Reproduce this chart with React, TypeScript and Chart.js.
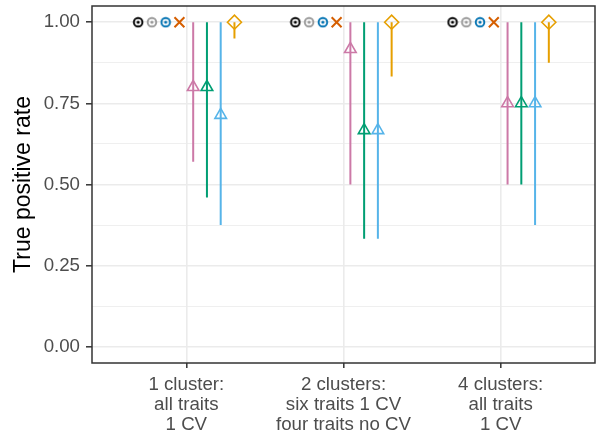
import { useEffect, useRef } from 'react';
import { Chart, registerables } from 'chart.js';

Chart.register(...registerables);

// Scenario labels along the x axis (one array of lines per scenario)
const scenarioLabels: string[][] = [
  ['1 cluster:', 'all traits', '1 CV'],
  ['2 clusters:', 'six traits 1 CV', 'four traits no CV'],
  ['4 clusters:', 'all traits', '1 CV'],
];
const scenarioPos = [1, 2, 3];

// y axis ticks: labelled majors and unlabelled minors
const yMajorTicks = [0, 0.25, 0.5, 0.75, 1];
const yMinorTicks = [0.125, 0.375, 0.625, 0.875];

// Methods, in dodge order
const methodNames = ['Method A', 'Method B', 'Method C', 'Method D', 'Method E', 'Method F', 'Method G', 'Method H'];
const methodColors = ['#000000', '#999999', '#0072B2', '#D55E00', '#CC79A7', '#009E73', '#56B4E9', '#E69F00'];
const methodShapes = ['dotCircle', 'dotCircle', 'dotCircle', 'crossRot', 'triangle', 'triangle', 'triangle', 'rectRot'];

// True positive rate per scenario, with lower / upper interval ends
const rateA = [1, 1, 1];
const lowA = [1, 1, 1];
const rateB = [1, 1, 1];
const lowB = [1, 1, 1];
const rateC = [1, 1, 1];
const lowC = [1, 1, 1];
const rateD = [1, 1, 1];
const lowD = [1, 1, 1];
const rateE = [0.8, 0.917, 0.75];
const lowE = [0.57, 0.5, 0.5];
const rateF = [0.8, 0.667, 0.75];
const lowF = [0.46, 0.333, 0.5];
const rateG = [0.714, 0.667, 0.75];
const lowG = [0.375, 0.333, 0.375];
const rateH = [1, 1, 1];
const lowH = [0.95, 0.833, 0.875];
const upperAll = [1, 1, 1];

const rates = [rateA, rateB, rateC, rateD, rateE, rateF, rateG, rateH];
const lows = [lowA, lowB, lowC, lowD, lowE, lowF, lowG, lowH];
const highs = [upperAll, upperAll, upperAll, upperAll, upperAll, upperAll, upperAll, upperAll];

const DODGE = 0.0875;
const FONT = '"Liberation Sans", Arial, Helvetica, sans-serif';

// Open circle with a centre dot, used as a point style
function dotCircle(color: string): HTMLCanvasElement {
  const c = document.createElement('canvas');
  c.width = 12;
  c.height = 12;
  const g = c.getContext('2d')!;
  g.strokeStyle = color;
  g.lineWidth = 1.9;
  g.beginPath();
  g.arc(6, 6, 4.3, 0, Math.PI * 2);
  g.stroke();
  g.fillStyle = color;
  g.beginPath();
  g.arc(6, 6, 1.6, 0, Math.PI * 2);
  g.fill();
  return c;
}

const panelBorder = {
  id: 'panelBorder',
  afterDatasetsDraw(chart: any) {
    const { left, top, right, bottom } = chart.chartArea;
    const ctx = chart.ctx;
    ctx.save();
    ctx.strokeStyle = '#333333';
    ctx.lineWidth = 1.5;
    ctx.strokeRect(left, top, right - left, bottom - top);
    ctx.restore();
  },
};

export default function App() {
  const ref = useRef<HTMLCanvasElement>(null);

  useEffect(() => {
    document.body.style.margin = '0';
    const canvas = ref.current!;

    const pointSets = methodNames.map((name, i) => {
      const off = (i - 3.5) * DODGE;
      const shape = methodShapes[i];
      const color = methodColors[i];
      const style = shape === 'dotCircle' ? dotCircle(color) : shape;
      const radius = shape === 'triangle' ? 6.7 : 7;
      return {
        type: 'scatter' as const,
        label: name,
        order: 1,
        data: scenarioPos.map((p, k) => ({ x: p + off, y: rates[i][k] })),
        pointStyle: style as any,
        pointRadius: radius,
        pointBorderColor: color,
        pointBackgroundColor: 'rgba(0,0,0,0)',
        pointBorderWidth: shape === 'crossRot' ? 2 : 1.6,
        showLine: false,
      };
    });

    const rangeSets = methodNames.map((name, i) => {
      const off = (i - 3.5) * DODGE;
      const data: { x: number; y: number | null }[] = [];
      scenarioPos.forEach((p, k) => {
        data.push({ x: p + off, y: lows[i][k] });
        data.push({ x: p + off, y: highs[i][k] });
        data.push({ x: p + off, y: null });
      });
      return {
        type: 'line' as const,
        label: name + ' interval',
        order: 2,
        data,
        borderColor: methodColors[i],
        borderWidth: 2,
        pointRadius: 0,
        spanGaps: false,
        showLine: true,
        fill: false,
      };
    });

    const chart = new Chart(canvas, {
      type: 'scatter',
      data: { datasets: [...pointSets, ...rangeSets] as any },
      plugins: [panelBorder],
      options: {
        animation: false,
        responsive: false,
        layout: { autoPadding: false, padding: { top: 6, right: 1, left: 0, bottom: 0 } } as any,
        plugins: { legend: { display: false }, tooltip: { enabled: false } },
        scales: {
          x: {
            type: 'linear',
            min: 0.4,
            max: 3.6,
            afterBuildTicks: (s: any) => {
              s.ticks = scenarioPos.map((v) => ({ value: v }));
            },
            afterFit: (s: any) => {
              s.height = 77;
              s.paddingLeft = 0;
              s.paddingRight = 0;
            },
            border: { display: false },
            grid: {
              color: '#EBEBEB',
              lineWidth: 1.6,
              tickColor: '#333333',
              tickLength: 5,
              tickWidth: 1.5,
            } as any,
            ticks: {
              autoSkip: false,
              maxRotation: 0,
              color: '#4D4D4D',
              padding: 7,
              font: { family: FONT, size: 18.7, lineHeight: 1.07 },
              callback: (_v: any, idx: number) => scenarioLabels[idx],
            },
          },
          y: {
            type: 'linear',
            min: -0.05,
            max: 1.05,
            afterBuildTicks: (s: any) => {
              s.ticks = [...yMajorTicks, ...yMinorTicks].sort((a, b) => a - b).map((v) => ({ value: v }));
            },
            afterFit: (s: any) => {
              s.width = 92;
              s.paddingTop = 0;
              s.paddingBottom = 0;
            },
            border: { display: false },
            grid: {
              color: '#EBEBEB',
              lineWidth: (c: any) => (yMajorTicks.includes(c.tick?.value) ? 1.6 : 0.8),
              tickColor: (c: any) => (yMajorTicks.includes(c.tick?.value) ? '#333333' : 'rgba(0,0,0,0)'),
              tickLength: 6,
              tickWidth: 1.5,
            } as any,
            ticks: {
              autoSkip: false,
              color: '#4D4D4D',
              padding: 6,
              font: { family: FONT, size: 18.7 },
              callback: (v: any) => (yMajorTicks.includes(v) ? Number(v).toFixed(2) : ''),
            },
            title: {
              display: true,
              text: 'True positive rate',
              color: '#000000',
              font: { family: FONT, size: 23 },
              padding: { top: 10, bottom: 0 },
            },
          },
        },
      },
    });

    return () => chart.destroy();
  }, []);

  return <canvas ref={ref} width={596} height={440} style={{ display: 'block' }} />;
}
